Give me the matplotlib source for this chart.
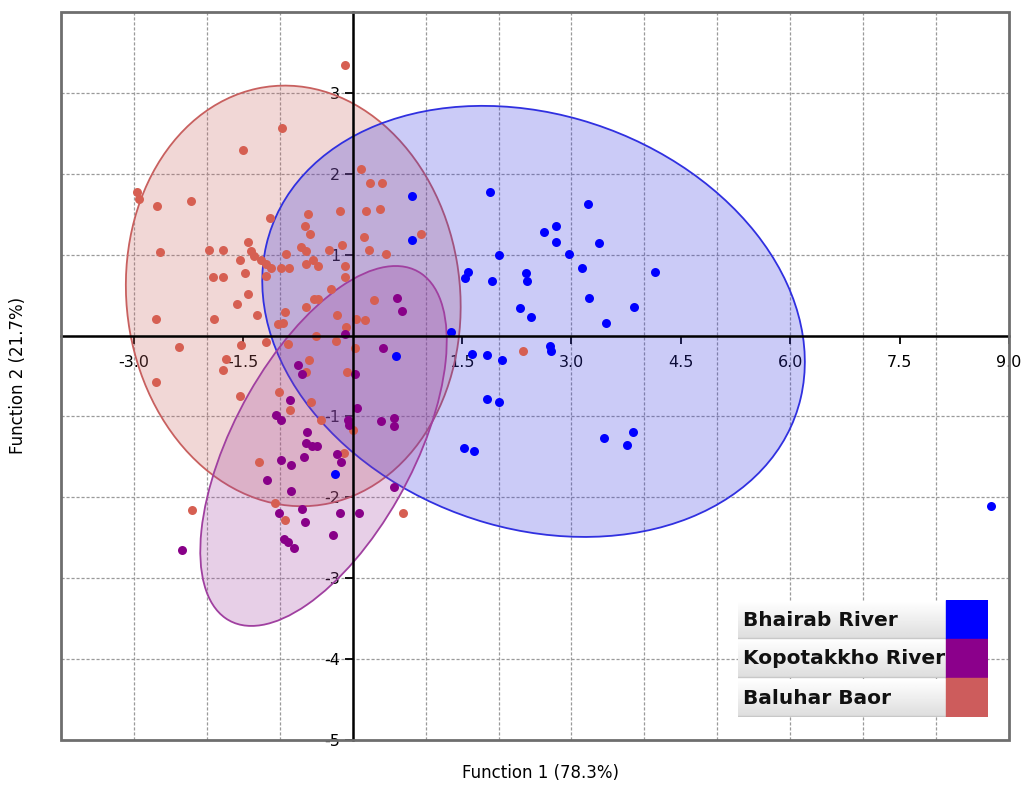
import numpy as np
import matplotlib
matplotlib.use('Agg')
import matplotlib.pyplot as plt
from matplotlib.patches import Ellipse, Rectangle

# discriminant scores (Function 1, Function 2) per site
bhairab_x = [1.88, 3.23, 2.62, 2.79, 2.79, 3.38, 2.01, 2.96, 1.58, 1.54, 1.91, 2.37, 2.39,
             3.15, 4.15, 3.24, 2.30, 2.44, 3.86, 3.47, 1.35, 1.63, 1.84, 2.05, 2.70, 2.72,
             1.84, 2.00, 1.52, 1.67, 3.45, 3.76, 3.84, 0.82, 0.82, 0.60, -0.24, 8.75]
bhairab_y = [1.77, 1.63, 1.28, 1.35, 1.16, 1.15, 1.00, 1.01, 0.79, 0.71, 0.67, 0.77, 0.68,
             0.83, 0.78, 0.47, 0.34, 0.23, 0.35, 0.16, 0.05, -0.23, -0.24, -0.30, -0.13, -0.19,
             -0.79, -0.82, -1.39, -1.43, -1.27, -1.35, -1.19, 1.72, 1.18, -0.25, -1.71, -2.11]

kopotakkho_x = [0.61, 0.67, -0.11, 0.41, -0.75, -0.70, 0.03, -0.86, -1.05, -0.98, 0.06, -0.07,
                -0.05, 0.39, 0.56, 0.56, -0.63, -0.64, -0.56, -0.49, -0.67, -0.98, -0.85, -0.21,
                -0.16, -1.18, 0.57, -0.85, -0.70, -1.01, -0.18, 0.08, -0.66, -0.27, -0.94, -0.89,
                -0.81, -2.34]
kopotakkho_y = [0.46, 0.30, 0.02, -0.16, -0.36, -0.47, -0.47, -0.80, -0.98, -1.04, -0.89, -1.05,
                -1.11, -1.06, -1.02, -1.12, -1.19, -1.33, -1.37, -1.37, -1.50, -1.54, -1.60, -1.47,
                -1.56, -1.78, -1.87, -1.92, -2.15, -2.19, -2.19, -2.19, -2.30, -2.46, -2.52, -2.55,
                -2.63, -2.65]

baluhar_x = [-0.11, -0.97, -1.50, -2.96, -2.93, -2.69, -2.22, -1.13, 0.12, 0.24, 0.40, -0.61,
             -0.18, 0.18, 0.37, -0.65, -0.59, 0.93, -1.43, 0.15, -0.71, -0.64, -0.14, -0.33,
             0.23, 0.46, -1.97, -1.78, -2.64, -1.40, -1.35, -1.26, -1.19, -1.12, -0.98, -0.87,
             -1.54, -0.92, -0.64, -0.55, -0.48, -0.11, -0.10, -1.92, -1.78, -1.47, -1.19, -1.44,
             -1.58, -1.31, -0.30, -2.70, -1.90, -0.93, -1.03, -0.96, -0.64, -0.53, -0.48, 0.29,
             -0.22, 0.05, 0.17, -0.09, -0.50, -0.23, -0.89, -1.19, -1.53, -2.38, 0.03, -1.74,
             -1.78, -2.70, -1.54, -1.01, -0.60, -0.64, -0.08, -0.57, -0.86, -0.44, 0.00, -0.12,
             -1.28, -1.06, -2.21, -0.93, 0.69, 2.34]
baluhar_y = [3.35, 2.57, 2.29, 1.78, 1.69, 1.60, 1.66, 1.45, 2.06, 1.89, 1.88, 1.50,
             1.54, 1.54, 1.57, 1.35, 1.25, 1.26, 1.16, 1.22, 1.10, 1.05, 1.12, 1.06,
             1.06, 1.01, 1.06, 1.06, 1.03, 1.05, 0.98, 0.93, 0.89, 0.84, 0.84, 0.84,
             0.93, 1.01, 0.89, 0.93, 0.86, 0.86, 0.73, 0.73, 0.73, 0.77, 0.74, 0.51,
             0.39, 0.26, 0.58, 0.21, 0.21, 0.29, 0.14, 0.16, 0.35, 0.45, 0.45, 0.44,
             0.26, 0.21, 0.19, 0.10, 0.00, -0.07, -0.10, -0.08, -0.12, -0.14, -0.15, -0.29,
             -0.43, -0.58, -0.75, -0.70, -0.30, -0.45, -0.45, -0.82, -0.92, -1.04, -1.17, -1.45,
             -1.56, -2.07, -2.16, -2.28, -2.19, -0.19]

# group ellipses: centre and shape matrix [[sxx, sxy], [sxy, syy]]
bhairab_centre = (2.48, 0.175)
bhairab_shape = [[13.84, -1.86], [-1.86, 7.10]]
kopotakkho_centre = (-0.40, -1.365)
kopotakkho_shape = [[2.856, 2.2], [2.2, 4.95]]
baluhar_centre = (-0.815, 0.49)
baluhar_shape = [[5.27, -0.3], [-0.3, 6.76]]

names = ['Bhairab River', 'Kopotakkho River', 'Baluhar Baor']
colors = ['#0000ff', '#8b008b', '#cd5c5c']

x_ticks = [-3.0, -1.5, 1.5, 3.0, 4.5, 6.0, 7.5, 9.0]
y_ticks = [-5, -4, -3, -2, -1, 1, 2, 3]


def shape_ellipse(centre, shape, color):
    vals, vecs = np.linalg.eigh(np.array(shape))
    order = vals.argsort()[::-1]
    vals, vecs = vals[order], vecs[:, order]
    angle = np.degrees(np.arctan2(vecs[1, 0], vecs[0, 0]))
    face = matplotlib.colors.to_rgba(color, 0.25)
    return Ellipse(centre, 2 * np.sqrt(vals[0]), 2 * np.sqrt(vals[1]), angle=angle,
                   facecolor=face, edgecolor=color, lw=1.3, zorder=2)


fig = plt.figure(figsize=(10.3, 7.85), dpi=100)
ax = fig.add_axes([61 / 1030, 1 - 740 / 785, 948 / 1030, 728 / 785])
ax.set_xlim(-4, 9)
ax.set_ylim(-5, 4)

# dashed grid on every unit
for gx in range(-3, 9):
    ax.axvline(gx, color='#9a9a9a', lw=0.9, ls=(0, (2.5, 1.5)), zorder=0)
for gy in range(-4, 4):
    ax.axhline(gy, color='#9a9a9a', lw=0.9, ls=(0, (2.5, 1.5)), zorder=0)

ax.add_patch(shape_ellipse(baluhar_centre, baluhar_shape, '#c8605f'))
ax.add_patch(shape_ellipse(bhairab_centre, bhairab_shape, '#3030e0'))
ax.add_patch(shape_ellipse(kopotakkho_centre, kopotakkho_shape, '#a040a0'))

ax.scatter(baluhar_x, baluhar_y, s=42, color='#d65f52', lw=0, zorder=4)
ax.scatter(kopotakkho_x, kopotakkho_y, s=42, color='#880088', lw=0, zorder=5)
ax.scatter(bhairab_x, bhairab_y, s=42, color='#0000ff', lw=0, zorder=6)

# axes through the origin
ax.spines['left'].set_position(('data', 0))
ax.spines['bottom'].set_position(('data', 0))
for side in ['left', 'bottom']:
    ax.spines[side].set_color('black')
    ax.spines[side].set_linewidth(1.8)
    ax.spines[side].set_zorder(7)
for side in ['top', 'right']:
    ax.spines[side].set_visible(False)
ax.add_patch(Rectangle((0, 0), 1, 1, transform=ax.transAxes, fill=False,
                       ec='#6e6e6e', lw=2.0, clip_on=False, zorder=8))

ax.set_xticks(x_ticks)
ax.set_xticklabels(['%.1f' % t for t in x_ticks])
ax.set_yticks(y_ticks)
ax.set_yticklabels([str(t) for t in y_ticks])
ax.tick_params(direction='out', length=6, width=1.3, labelsize=11.5, colors='black')
ax.tick_params(axis='x', pad=8)
ax.tick_params(axis='y', pad=3)

fig.text(540 / 1030, 1 - 773 / 785, 'Function 1 (78.3%)', ha='center', va='center', fontsize=12)
fig.text(18 / 1030, 1 - 375 / 785, 'Function 2 (21.7%)', ha='center', va='center',
         fontsize=12, rotation=90)

# legend box: grey gradient cells with clipped labels and colour swatches
lg = fig.add_axes([738 / 1030, 1 - 717 / 785, 250 / 1030, 117 / 785])
lg.set_xlim(0, 250)
lg.set_ylim(0, 117)
lg.axis('off')
grad = np.linspace(0.87, 1.0, 50).reshape(-1, 1)
for i, (name, col) in enumerate(zip(names, colors)):
    y0 = 117 - (i + 1) * 39
    lg.imshow(grad, cmap='gray', vmin=0, vmax=1, extent=[0, 208, y0 + 1, y0 + 38],
              aspect='auto', origin='lower', zorder=1)
    lg.plot([0, 208], [y0 + 1, y0 + 1], color='#c8c8c8', lw=1, zorder=2)
    lg.add_patch(Rectangle((208, y0), 42, 39, color=col, zorder=2))
    t = lg.text(5, y0 + 19, name, fontsize=14.5, fontweight='bold', va='center', ha='left',
                color='#111111', zorder=3)
    t.set_clip_path(Rectangle((0, 0), 208, 117, transform=lg.transData))
lg.set_xlim(0, 250)
lg.set_ylim(0, 117)

fig.savefig('out.png', dpi=100)
